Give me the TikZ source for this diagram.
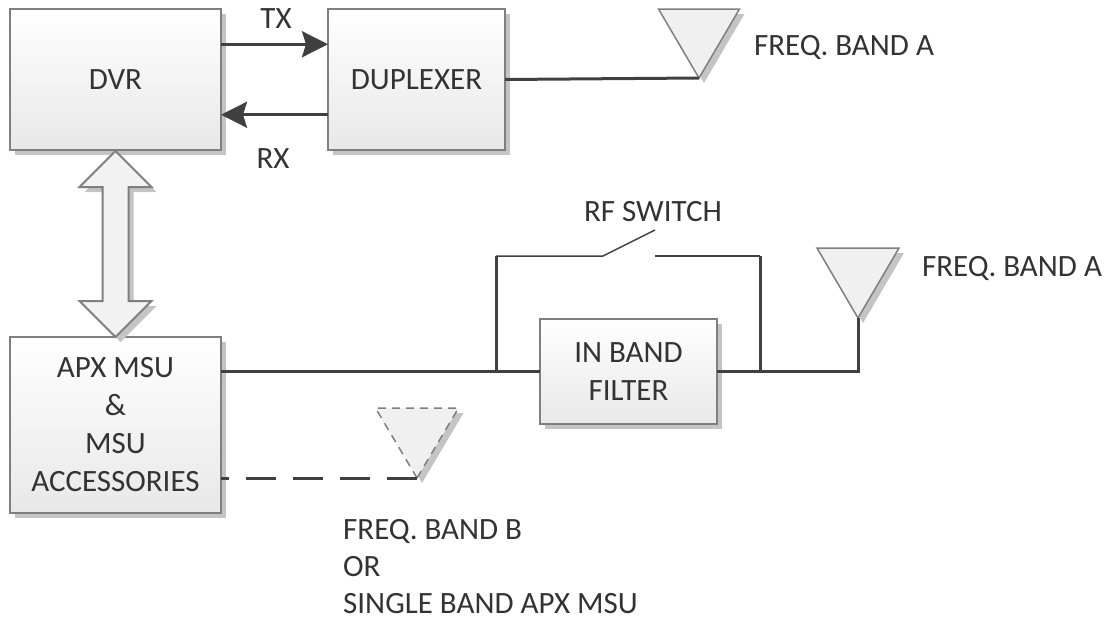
\documentclass[tikz,border=0pt]{standalone}
\usepackage{fontspec}
\setmainfont{Carlito}
\usepackage{tikz}
\usetikzlibrary{calc, shadows, shapes.geometric, shapes.arrows, arrows.meta}
\definecolor{textgray}{HTML}{333333}
\definecolor{linegray}{HTML}{404040}
\definecolor{boxgray}{HTML}{7F7F7F}
\definecolor{shadowgray}{HTML}{C4C4C4}
\tikzstyle{softshadow} = [drop shadow={shadow xshift=5pt, shadow yshift=-5pt, fill=shadowgray, opacity=1}]
\tikzstyle{block} = [draw=boxgray, line width=2pt, top color=white, bottom color=black!9, softshadow, text=textgray, inner sep=0pt, outer sep=0pt, align=center, font=\fontsize{31}{38}\selectfont, rectangle]
\tikzstyle{antenna} = [draw=boxgray, line width=1.5pt, fill=black!6, softshadow, isosceles triangle, isosceles triangle stretches, shape border rotate=-90, anchor=apex, inner sep=0pt, outer sep=0pt]
\tikzstyle{caption} = [text=textgray, inner sep=0pt, align=left, font=\fontsize{31}{37}\selectfont]
\tikzstyle{wire} = [linegray, line width=3pt]
\tikzstyle{thinwire} = [linegray, line width=1.5pt]
\tikzstyle{signal} = [wire, -{Stealth[length=26pt, width=26pt, inset=4pt]}]

\begin{document}
\begin{tikzpicture}[x=1pt, y=-1pt]

\useasboundingbox (0,0) rectangle (1109,621);

\node[block, minimum width=211pt, minimum height=141pt] (dvr) at (115.5,79.5) {DVR};
\node[block, minimum width=177pt, minimum height=141pt] (duplexer) at (416.5,79.5) {DUPLEXER};
\node[block, minimum width=211pt, minimum height=176pt] (apx) at (115.5,425) {APX MSU\\\&\\MSU\\ACCESSORIES};
\node[block, minimum width=177pt, minimum height=105pt] (filter) at (628.5,371.5) {IN BAND\\FILTER};

\node[antenna, minimum height=69pt, minimum width=81pt] (anta) at (699,78) {};
\node[antenna, minimum height=70pt, minimum width=82pt] (antb) at (858,318) {};
\node[antenna, minimum height=70pt, minimum width=83pt, dash pattern=on 8pt off 6pt] (antc) at (417,478) {};

\node[draw=boxgray, line width=2pt, fill=black!5, softshadow, double arrow, double arrow tip angle=90, double arrow head extend=23pt, double arrow head indent=0pt, minimum height=186pt, inner xsep=0pt, inner ysep=12pt, outer sep=0pt, rotate=90] (bus) at (115.5,244) {};

\node[caption] (tx) at (276,19) {TX};
\node[caption] (rx) at (273,159) {RX};
\node[caption] (banda) at (844,47) {FREQ. BAND A};
\node[caption] (bandb) at (1012,268) {FREQ. BAND A};
\node[caption] (rfswitch) at (653,212) {RF SWITCH};
\node[caption, anchor=west] (bandc) at (343,567) {FREQ. BAND B\\OR\\SINGLE BAND APX MSU};

\coordinate (swleft) at (496,372);
\coordinate (swright) at (760,372);
\coordinate (pivot) at (603,256);
\coordinate (lever) at (655,230);
\coordinate (contact) at (655,256);

\draw[signal] ($(dvr.north east)!0.25!(dvr.south east)$) to ($(duplexer.north west)!0.25!(duplexer.south west)$);
\draw[signal] ($(duplexer.north west)!0.75!(duplexer.south west)$) to ($(dvr.north east)!0.75!(dvr.south east)$);
\draw[wire] (duplexer.east) to (anta.apex);
\draw[wire] (filter.west -| apx.east) to (filter.west);
\draw[wire] (filter.east) -| (antb.apex);
\draw[wire, dash pattern=on 30pt off 17pt, dash phase=22pt] (apx.east |- antc.apex) to (antc.apex);

\draw[wire] (swleft) to (swleft |- pivot);
\draw[thinwire] (swleft |- pivot) to (pivot) to (lever);
\draw[thinwire] (contact) to (contact -| swright);
\draw[wire] (contact -| swright) to (swright);

\end{tikzpicture}
\end{document}
